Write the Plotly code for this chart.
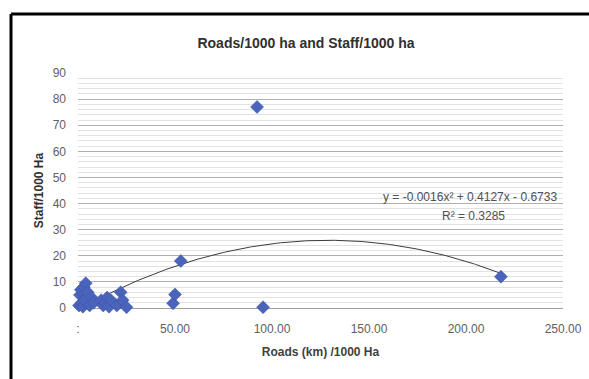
import numpy as np
import plotly.graph_objects as go

# Data
roads = [0.5, 1, 1.5, 2, 2.5, 3, 3.5, 4, 5, 6, 7, 8,
         12, 13, 14, 15, 16, 17,
         20, 22, 23, 25,
         49, 50, 53, 92.3, 95.4, 218]
staff = [1, 5, 7, 2, 0.5, 8, 3, 9.5, 6, 1, 4, 2,
         3, 1, 2, 4, 0.5, 3,
         1, 6, 3, 0.3,
         1.8, 5.2, 18, 77, 0.3, 12]

# Trendline coefficients (as printed on the chart)
coef_a, coef_b, coef_c = -0.0016, 0.4127, -0.6733
eq_text = "y = -0.0016x² + 0.4127x - 0.6733"
r2_text = "R² = 0.3285"

x_ticks = [0, 50, 100, 150, 200, 250]
x_tick_labels = [":", "50.00", "100.00", "150.00", "200.00", "250.00"]
y_ticks = [0, 10, 20, 30, 40, 50, 60, 70, 80, 90]

title_text = "Roads/1000 ha and Staff/1000 ha"
x_title = "Roads (km) /1000 Ha"
y_title = "Staff/1000 Ha"

xf = np.linspace(min(roads), max(roads), 200)
yf = coef_a * xf**2 + coef_b * xf + coef_c

L, R, T, B = 78, 26, 73, 71
PW = 589 - L - R
PH = 379 - T - B


def px(xp):
    return (xp - L) / PW


def py(yp):
    return (379 - B - yp) / PH


fig = go.Figure()
fig.add_trace(go.Scatter(
    x=xf, y=yf, mode="lines",
    line=dict(color="#3c3c3c", width=1),
    showlegend=False))
fig.add_trace(go.Scatter(
    x=roads, y=staff, mode="markers", cliponaxis=False,
    marker=dict(symbol="diamond", size=10, color="#4a64bc",
                line=dict(width=0.5, color="#3a52a8")),
    showlegend=False))

FONT = "Liberation Sans"
fig.update_layout(
    width=589, height=379,
    margin=dict(l=L, r=R, t=T, b=B, autoexpand=False),
    paper_bgcolor="white", plot_bgcolor="white",
    font=dict(family=FONT, color="#404040", size=10),
    title=dict(text="<b>" + title_text + "</b>", x=306 / 589, xanchor="center",
               y=1 - 43 / 379, yanchor="middle",
               font=dict(size=14, color="#303030", family=FONT)),
    xaxis=dict(range=[0, 250], tickvals=x_ticks, ticktext=x_tick_labels,
               showgrid=False, zeroline=False, showline=False, automargin=False,
               ticks="", ticklabelstandoff=12,
               tickfont=dict(size=12, color="#606060"),
               title=dict(text="<b>" + x_title + "</b>", standoff=12,
                          font=dict(size=12, color="#404040"))),
    yaxis=dict(range=[0, 90], tickvals=y_ticks, automargin=False,
               showgrid=True, gridcolor="#b0b0b0", gridwidth=1,
               minor=dict(dtick=2, showgrid=True, gridcolor="#e2e2e2", gridwidth=1),
               zeroline=True, zerolinecolor="#a0a0a0", zerolinewidth=1,
               showline=False, ticks="", ticklabelstandoff=11,
               tickfont=dict(size=12, color="#606060"),
               title=dict(text="<b>" + y_title + "</b>", standoff=6,
                          font=dict(size=12, color="#303030"))),
)

fig.add_annotation(xref="paper", yref="paper", xanchor="center", yanchor="middle",
                   x=px(470), y=py(197),
                   text=eq_text, showarrow=False,
                   font=dict(size=12, color="#505050"))
fig.add_annotation(xref="paper", yref="paper", xanchor="center", yanchor="middle",
                   x=px(473), y=py(216),
                   text=r2_text, showarrow=False,
                   font=dict(size=12, color="#505050"))

# Black frame on top and left of the chart (scan border)
fig.add_shape(type="line", xref="paper", yref="paper",
              x0=px(11), x1=px(589), y0=py(14), y1=py(14),
              line=dict(color="black", width=3))
fig.add_shape(type="line", xref="paper", yref="paper",
              x0=px(11), x1=px(11), y0=py(14), y1=py(379),
              line=dict(color="black", width=3))

fig.write_html("out.html")
